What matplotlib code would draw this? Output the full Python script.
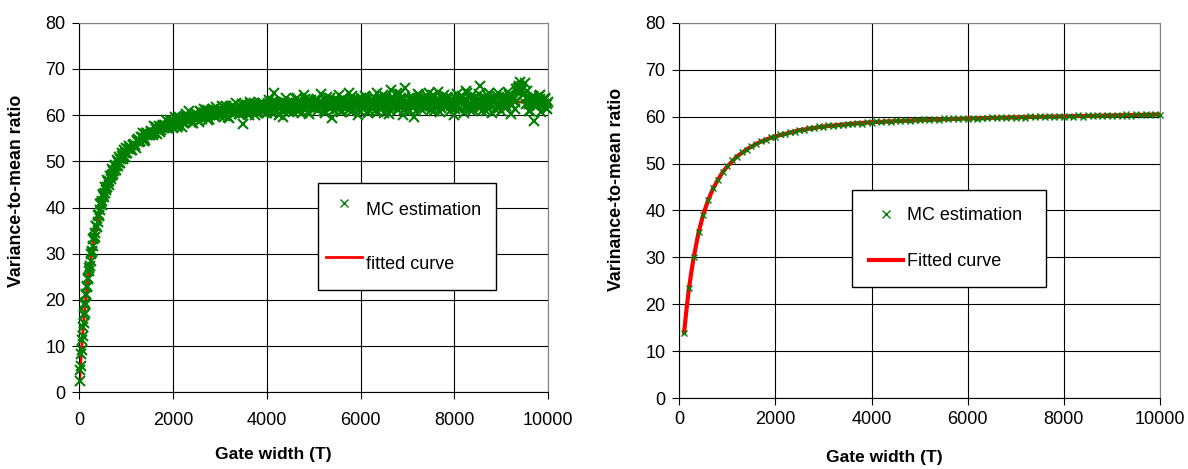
import numpy as np
import matplotlib.pyplot as plt

plt.rcParams['font.family'] = ['Liberation Sans', 'DejaVu Sans']

# ---- left panel: MC estimate of the variance-to-mean ratio ----
gate_a = np.array(
    list(range(10, 201, 10)) + list(range(225, 1001, 25)) + list(range(1050, 10001, 50)))
mc_a = np.array([
    # 10 .. 200
    2.5, 4.9, 5.8, 8.3, 9.1, 11.4, 12.2, 14.1, 14.9, 16.8,
    17.1, 18.9, 19.4, 21.0, 21.2, 22.9, 23.0, 24.6, 24.8, 26.2,
    # 225 .. 1000
    27.4, 29.9, 30.4, 33.1, 33.6, 35.9, 35.8, 38.3, 38.1, 40.8,
    40.6, 42.9, 42.2, 44.5, 43.7, 45.9, 44.9, 46.9, 46.1, 48.3,
    47.2, 49.2, 48.1, 50.2, 49.0, 51.0, 49.7, 51.7, 50.4, 52.4,
    51.0, 52.9,
    # 1050 .. 2000
    53.4, 52.4, 53.6, 52.9, 54.9, 54.5, 56.1, 54.6, 56.1, 55.6,
    56.0, 57.6, 55.9, 57.6, 56.8, 57.6, 58.9, 57.2, 58.4, 57.2,
    # 2050 .. 3000
    59.7, 57.7, 59.1, 57.5, 59.9, 58.9, 60.8, 58.4, 60.1, 59.1,
    58.6, 60.6, 61.4, 59.6, 58.9, 60.5, 61.4, 59.7, 60.9, 60.4,
    # 3050 .. 4000
    62.0, 59.8, 60.9, 59.4, 61.9, 60.6, 62.7, 60.2, 61.8, 58.0,
    62.1, 60.2, 62.8, 61.1, 60.1, 62.0, 62.7, 60.9, 61.8, 60.4,
    # 4050 .. 5000
    63.2, 60.5, 64.7, 62.2, 60.1, 62.7, 59.6, 63.8, 61.3, 62.5,
    60.7, 62.5, 63.8, 61.2, 60.4, 64.3, 62.4, 60.2, 63.3, 61.6,
    # 5050 .. 6000
    63.2, 61.1, 64.6, 62.0, 60.4, 62.8, 63.7, 59.4, 62.4, 61.3,
    64.3, 60.9, 62.8, 61.7, 64.9, 60.6, 63.5, 62.1, 60.0, 63.8,
    # 6050 .. 7000
    61.4, 64.1, 60.4, 62.8, 63.6, 60.9, 64.7, 61.9, 63.2, 60.5,
    64.0, 60.2, 65.4, 61.7, 63.1, 61.1, 64.5, 60.1, 65.9, 62.4,
    # 7050 .. 8000
    60.9, 63.9, 59.6, 63.0, 64.4, 61.4, 63.5, 62.0, 64.8, 61.1,
    64.3, 61.7, 65.1, 60.6, 63.4, 62.3, 63.9, 60.9, 63.0, 60.1,
    # 8050 .. 9000
    64.6, 61.4, 63.5, 60.5, 65.2, 62.0, 64.1, 61.1, 62.9, 61.8,
    66.3, 61.0, 63.8, 62.3, 64.8, 60.4, 63.4, 64.3, 61.6, 60.8,
    # 9050 .. 10000
    64.0, 62.0, 65.1, 60.2, 63.3, 61.4, 65.8, 67.2, 66.4, 67.0,
    65.2, 61.0, 63.6, 58.8, 62.5, 64.1, 60.6, 63.2, 61.5, 62.8,
])

gate_b = np.array(list(range(215, 991, 25)) + list(range(1025, 9976, 50)))
mc_b = np.array([
    # 215 .. 990
    27.0, 28.5, 30.6, 31.7, 33.5, 34.5, 36.1, 36.8, 38.3, 39.5,
    40.9, 41.4, 42.7, 43.1, 44.2, 44.5, 45.6, 45.8, 46.8, 47.0,
    47.9, 48.0, 48.9, 48.9, 49.8, 49.7, 50.5, 50.5, 51.2, 51.1,
    51.8, 51.7,
    # 1025 .. 1975
    51.9, 53.2, 52.5, 53.7, 54.7, 54.1, 55.2, 54.3, 56.2, 55.9,
    56.5, 55.8, 57.5, 56.8, 56.4, 57.9, 57.7, 57.3, 58.9, 57.9,
    # 2025 .. 2975
    58.8, 57.5, 59.6, 58.7, 58.4, 60.2, 58.9, 59.6, 58.3, 60.4,
    59.7, 60.9, 59.2, 60.4, 61.1, 59.2, 60.8, 60.1, 61.7, 60.0,
    # 3025 .. 3975
    61.2, 60.3, 61.9, 59.7, 61.1, 61.9, 60.4, 61.4, 60.2, 62.5,
    60.7, 62.1, 60.0, 61.5, 62.6, 60.7, 61.9, 61.3, 62.6, 60.5,
    # 4025 .. 4975
    62.0, 60.8, 63.1, 61.4, 62.6, 60.3, 62.3, 62.9, 61.3, 60.7,
    62.9, 61.8, 63.6, 61.0, 62.2, 61.5, 63.4, 60.7, 62.7, 62.1,
    # 5025 .. 5975
    61.5, 63.4, 62.0, 62.8, 60.8, 63.9, 61.8, 62.5, 61.2, 63.1,
    62.4, 60.7, 63.7, 61.8, 63.0, 61.4, 64.2, 62.2, 62.8, 61.1,
    # 6025 .. 6975
    63.2, 62.1, 63.9, 61.2, 62.8, 61.6, 63.5, 60.7, 62.7, 64.3,
    61.9, 63.0, 61.1, 63.5, 62.5, 64.7, 61.7, 63.3, 61.1, 62.9,
    # 7025 .. 7975
    63.8, 62.1, 63.0, 61.0, 64.6, 62.4, 63.4, 61.6, 64.1, 62.0,
    63.0, 60.9, 63.6, 62.8, 61.5, 64.4, 62.3, 63.7, 61.9, 63.2,
    # 8025 .. 8975
    61.4, 63.3, 62.6, 64.2, 61.8, 64.9, 61.1, 63.1, 63.8, 62.2,
    64.5, 61.8, 63.0, 60.8, 64.1, 62.5, 63.5, 61.4, 64.8, 62.2,
    # 9025 .. 9975
    63.7, 61.6, 63.1, 64.4, 62.1, 63.8, 65.6, 66.4, 65.2, 64.3,
    62.4, 63.5, 61.0, 64.1, 62.7, 61.9, 64.3, 62.3, 63.4, 61.4,
])

gate_c = np.arange(1035, 9986, 50)
mc_c = np.array([
    # 1035 .. 1985
    52.6, 52.8, 53.5, 53.5, 54.4, 54.4, 55.2, 55.0, 55.8, 55.7,
    56.4, 56.2, 56.9, 56.8, 57.4, 57.2, 57.8, 57.6, 58.2, 58.0,
    # 2035 .. 2985
    58.6, 58.3, 59.1, 58.6, 59.3, 58.9, 59.5, 59.0, 59.9, 59.4,
    60.1, 59.5, 60.4, 59.8, 60.6, 60.0, 60.7, 60.2, 61.0, 60.3,
    # 3035 .. 3985
    61.1, 60.4, 61.3, 60.6, 61.5, 60.7, 61.6, 60.8, 61.7, 60.9,
    61.9, 61.0, 62.1, 61.1, 62.0, 61.2, 62.2, 61.3, 62.1, 61.4,
    # 4035 .. 4985
    62.3, 61.2, 62.5, 61.4, 62.4, 61.3, 62.7, 61.5, 62.6, 61.6,
    62.8, 61.5, 62.6, 61.7, 62.9, 61.6, 62.8, 61.8, 62.7, 61.7,
    # 5035 .. 5985
    63.0, 61.7, 62.9, 61.8, 63.1, 61.9, 63.0, 61.8, 63.2, 62.0,
    63.1, 61.9, 63.3, 62.0, 63.0, 61.9, 63.2, 62.1, 63.4, 62.0,
    # 6035 .. 6985
    63.3, 62.0, 63.5, 61.9, 63.2, 62.1, 63.4, 62.0, 63.6, 62.2,
    63.4, 62.1, 63.5, 62.0, 63.3, 62.2, 63.6, 62.1, 63.4, 62.3,
    # 7035 .. 7985
    63.5, 62.2, 63.6, 62.1, 63.4, 62.3, 63.7, 62.2, 63.5, 62.4,
    63.6, 62.2, 63.5, 62.3, 63.7, 62.1, 63.6, 62.4, 63.5, 62.3,
    # 8035 .. 8985
    63.6, 62.3, 63.8, 62.2, 63.5, 62.4, 63.7, 62.3, 63.9, 62.4,
    63.6, 62.5, 63.8, 62.3, 63.6, 62.4, 63.7, 62.5, 63.8, 62.3,
    # 9035 .. 9985
    63.7, 62.4, 63.9, 62.5, 64.2, 62.8, 65.0, 65.8, 65.4, 64.6,
    63.8, 62.5, 63.6, 62.4, 63.7, 62.6, 63.5, 62.4, 63.8, 62.5,
])

gate_left = np.concatenate([gate_a, gate_b, gate_c])
mc_left = np.concatenate([mc_a, mc_b, mc_c])

fit_x_left = [10, 20, 30, 40, 50, 60, 80, 100, 125, 150, 175, 200, 250, 300,
              350, 400, 450, 500, 600, 700, 800, 900, 1000, 1200, 1400, 1600,
              1800, 2000, 2500, 3000, 3500, 4000, 5000, 6000, 7000, 8000,
              9000, 10000]
fit_y_left = [2.7, 4.5, 6.2, 7.9, 9.5, 11.0, 13.8, 16.3, 19.0, 21.5, 23.7,
              25.8, 29.4, 32.5, 35.2, 37.5, 40.1, 42.0, 45.0, 47.4, 49.3,
              50.8, 52.0, 53.9, 55.4, 56.6, 57.5, 58.3, 59.7, 60.6, 61.2,
              61.6, 62.1, 62.4, 62.6, 62.7, 62.8, 62.9]

# ---- right panel ----
gate_right = np.arange(100, 10001, 100)
mc_right = np.array([
    14.0, 23.4, 30.1, 35.5, 39.1, 42.3, 44.7, 46.4, 48.2, 49.5,
    50.7, 51.4, 52.4, 52.9, 53.7, 54.1, 54.8, 55.0, 55.6, 55.7,
    56.2, 56.3, 56.7, 56.8, 57.2, 57.2, 57.6, 57.5, 57.9, 57.8,
    58.1, 58.0, 58.3, 58.2, 58.5, 58.4, 58.7, 58.5, 58.8, 58.7,
    59.0, 58.8, 59.1, 58.9, 59.2, 59.0, 59.3, 59.1, 59.3, 59.2,
    59.4, 59.2, 59.5, 59.3, 59.6, 59.4, 59.6, 59.5, 59.7, 59.5,
    59.8, 59.5, 59.8, 59.6, 59.9, 59.7, 59.9, 59.7, 60.0, 59.8,
    60.0, 59.8, 60.1, 59.9, 60.1, 59.9, 60.2, 59.9, 60.2, 60.0,
    60.2, 60.0, 60.3, 60.0, 60.3, 60.1, 60.4, 60.1, 60.4, 60.2,
    60.4, 60.2, 60.5, 60.2, 60.5, 60.3, 60.6, 60.3, 60.6, 60.4,
])

fit_x_right = [100, 150, 200, 250, 300, 400, 500, 600, 700, 800, 900, 1000,
               1200, 1400, 1600, 1800, 2000, 2500, 3000, 3500, 4000, 5000,
               6000, 7000, 8000, 9000, 10000]
fit_y_right = [14.0, 19.0, 23.3, 26.9, 30.0, 35.3, 39.2, 42.2, 44.6, 46.5,
               48.1, 49.4, 51.5, 53.0, 54.2, 55.1, 55.8, 57.1, 57.9, 58.4,
               58.8, 59.25, 59.6, 59.85, 60.05, 60.25, 60.45]

GREEN = '#008000'
RED = '#ff0000'


def style_axes(ax, xpad):
    ax.set_xlim(0, 10000)
    ax.set_ylim(0, 80)
    ax.set_xticks(range(0, 10001, 2000))
    ax.set_yticks(range(0, 81, 10))
    ax.grid(True, color='black', lw=0.8)
    ax.set_axisbelow(True)
    for side in ('top', 'right'):
        ax.spines[side].set_color('#808080')
    for side in ('left', 'bottom'):
        ax.spines[side].set_color('black')
    ax.tick_params(axis='both', direction='out', length=5, width=0.8,
                   labelsize=13, colors='black')
    ax.tick_params(axis='y', pad=5)
    ax.tick_params(axis='x', pad=xpad)


fig = plt.figure(figsize=(11.88, 4.69), dpi=100)

# left
ax1 = fig.add_axes([0.0668, 0.1635, 0.3945, 0.788])
style_axes(ax1, 9.5)
fit1, = ax1.plot(fit_x_left, fit_y_left, color=RED, lw=2, zorder=2)
mc1, = ax1.plot(gate_left, mc_left, ls='none', marker='x', color=GREEN,
                ms=7, mew=1.5, zorder=3, clip_on=False)
ax1.set_xlabel('Gate width (T)', fontsize=12.5, fontweight='bold')
ax1.set_ylabel('Variance-to-mean ratio', fontsize=12.8, fontweight='bold')
ax1.xaxis.set_label_coords(0.413, -0.148)
ax1.yaxis.set_label_coords(-0.116, 0.545)
leg1 = ax1.legend([mc1, fit1], ['MC estimation', 'fitted curve'],
                  loc='upper left', bbox_to_anchor=(0.509, 0.285, 0.380, 0.281),
                  mode='expand', borderaxespad=0, fontsize=13, numpoints=1,
                  handlelength=2.0, handletextpad=0.2, labelspacing=0.9,
                  handleheight=2.8, borderpad=0.45, fancybox=False,
                  framealpha=1, edgecolor='black')
leg1.legend_handles[0].set_markersize(6)
leg1.legend_handles[0].set_markeredgewidth(1.0)

# right
ax2 = fig.add_axes([0.5718, 0.1507, 0.4046, 0.801])
style_axes(ax2, 4)
fit2, = ax2.plot(fit_x_right, fit_y_right, color=RED, lw=3, zorder=2)
mc2, = ax2.plot(gate_right, mc_right, ls='none', marker='x', color=GREEN,
                ms=4.5, mew=1.0, zorder=3, clip_on=False)
ax2.set_xlabel('Gate width (T)', fontsize=12.5, fontweight='bold')
ax2.set_ylabel('Varinance-to-mean ratio', fontsize=12.8, fontweight='bold')
ax2.xaxis.set_label_coords(0.427, -0.138)
ax2.yaxis.set_label_coords(-0.113, 0.555)
ax2.legend([mc2, fit2], ['MC estimation', 'Fitted curve'],
           loc='upper left', bbox_to_anchor=(0.359, 0.300, 0.403, 0.255),
           mode='expand', borderaxespad=0, fontsize=13, numpoints=1,
           handlelength=1.9, handletextpad=0.2, labelspacing=1.6,
           borderpad=0.95, fancybox=False, framealpha=1, edgecolor='black',
           markerscale=1.4)

fig.savefig('out.png', dpi=100)
